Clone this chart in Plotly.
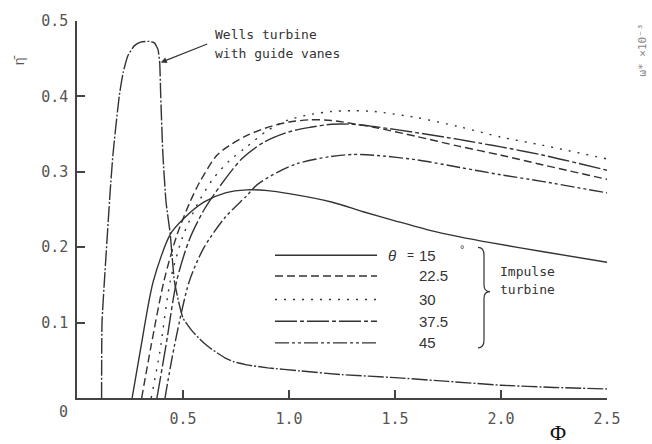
import plotly.graph_objects as go

# ---------------- data ----------------
wells_x = [0.116, 0.118, 0.132, 0.156, 0.17, 0.2, 0.218, 0.24, 0.27, 0.3, 0.34, 0.365, 0.382, 0.39,
           0.395, 0.405, 0.42, 0.44, 0.46, 0.5, 0.54, 0.58, 0.62, 0.66, 0.7, 0.74, 0.8, 0.9, 1.05, 1.25, 1.5, 1.75, 2.0, 2.25, 2.5]
wells_y = [0.0, 0.1, 0.167, 0.272, 0.324, 0.402, 0.432, 0.454, 0.467, 0.472, 0.473, 0.471, 0.462, 0.445,
           0.40, 0.324, 0.26, 0.217, 0.154, 0.106, 0.09, 0.078, 0.068, 0.06, 0.053, 0.048, 0.044, 0.04, 0.036, 0.031, 0.027, 0.022, 0.017, 0.014, 0.012]

t15_x = [0.26, 0.3, 0.36, 0.44, 0.5, 0.6, 0.7, 0.8, 0.9, 1.0, 1.2, 1.35, 1.5, 1.67, 1.8, 1.95, 2.2, 2.5]
t15_y = [0.0, 0.065, 0.155, 0.217, 0.237, 0.26, 0.272, 0.276, 0.275, 0.271, 0.26, 0.247, 0.235, 0.222, 0.214, 0.206, 0.194, 0.18]

t22_x = [0.305, 0.35, 0.41, 0.47, 0.53, 0.58, 0.66, 0.72, 0.8, 0.91, 1.0, 1.1, 1.2, 1.4, 1.6, 1.8, 2.0, 2.2, 2.5]
t22_y = [0.0, 0.07, 0.155, 0.215, 0.258, 0.287, 0.322, 0.335, 0.348, 0.36, 0.366, 0.369, 0.368, 0.359, 0.347, 0.334, 0.322, 0.309, 0.29]

t30_x = [0.35, 0.39, 0.44, 0.5, 0.57, 0.64, 0.72, 0.8, 0.9, 1.0, 1.1, 1.2, 1.3, 1.4, 1.6, 1.8, 2.0, 2.2, 2.5]
t30_y = [0.0, 0.06, 0.155, 0.215, 0.258, 0.29, 0.315, 0.333, 0.355, 0.369, 0.376, 0.38, 0.381, 0.38, 0.372, 0.36, 0.346, 0.335, 0.317]

t37_x = [0.377, 0.42, 0.47, 0.53, 0.6, 0.69, 0.78, 0.88, 1.0, 1.1, 1.2, 1.3, 1.4, 1.6, 1.8, 1.9, 2.0, 2.2, 2.5]
t37_y = [0.0, 0.07, 0.155, 0.21, 0.25, 0.287, 0.318, 0.339, 0.353, 0.359, 0.363, 0.363, 0.36, 0.352, 0.343, 0.338, 0.333, 0.322, 0.302]

t45_x = [0.415, 0.46, 0.53, 0.6, 0.7, 0.8, 0.85, 0.95, 1.04, 1.19, 1.3, 1.4, 1.6, 1.8, 1.9, 2.0, 2.2, 2.5]
t45_y = [0.0, 0.07, 0.155, 0.2, 0.24, 0.268, 0.283, 0.3, 0.311, 0.32, 0.323, 0.322, 0.316, 0.306, 0.301, 0.296, 0.287, 0.272]

theta_labels = ["15", "22.5", "30", "37.5", "45"]
x_tick_vals = [0.5, 1.0, 1.5, 2.0, 2.5]
x_tick_text = ["0.5", "1.0", "1.5", "2.0", "2.5"]
y_tick_vals = [0.1, 0.2, 0.3, 0.4, 0.5]
y_tick_text = ["0.1", "0.2", "0.3", "0.4", "0.5"]

# ---------------- styling ----------------
W, H = 652, 444
L, R, T, B = 77, 607, 15, 398  # plot area in pixels
INK = "#333333"
TXT = "#555555"
MONO = "DejaVu Sans Mono"
SANS = "Liberation Sans"

def px(x):
    return (x - L) / (R - L)

def py(y):
    return (B - y) / (B - T)

dashes = ["solid", "8px,4px", "2px,7px", "22px,3px,4px,3px", "14px,3px,3px,3px,3px,3px"]
series = [(t15_x, t15_y), (t22_x, t22_y), (t30_x, t30_y), (t37_x, t37_y), (t45_x, t45_y)]

fig = go.Figure()
fig.add_trace(go.Scatter(x=wells_x, y=wells_y, mode="lines",
                         line=dict(color=INK, width=1.4, dash="16px,2px,2px,2px", shape="spline", smoothing=0.5),
                         showlegend=False, hoverinfo="skip"))
for (sx, sy), d in zip(series, dashes):
    fig.add_trace(go.Scatter(x=sx, y=sy, mode="lines",
                             line=dict(color=INK, width=1.4, dash=d, shape="spline", smoothing=0.8),
                             showlegend=False, hoverinfo="skip"))

shapes = []
annotations = []

# legend samples (manual)
rows = [253, 274, 298, 320, 342]
for r, d, lab in zip(rows, dashes, theta_labels):
    shapes.append(dict(type="line", xref="paper", yref="paper", x0=px(275), x1=px(377), y0=py(r), y1=py(r),
                       line=dict(color=INK, width=1.4, dash=d)))
    annotations.append(dict(xref="paper", yref="paper", x=px(417), y=py(r), text=lab, showarrow=False,
                            xanchor="left", yanchor="middle", font=dict(family=SANS, size=15, color=INK)))
annotations.append(dict(xref="paper", yref="paper", x=px(398), y=py(rows[0]), text="<i>θ</i>", showarrow=False,
                        xanchor="right", yanchor="middle", font=dict(family=SANS, size=15, color=INK)))
annotations.append(dict(xref="paper", yref="paper", x=px(416), y=py(rows[0]), text="=", showarrow=False,
                        xanchor="right", yanchor="middle", font=dict(family=SANS, size=12, color=INK)))
annotations.append(dict(xref="paper", yref="paper", x=px(462), y=py(247), text="°", showarrow=False,
                        xanchor="center", yanchor="middle", font=dict(family=SANS, size=11, color=INK)))

# brace
bx = 484
bt, bm, bb = 245, 290, 347
path = (f"M {px(bx-6)},{py(bt)} Q {px(bx)},{py(bt)} {px(bx)},{py(bt+8)} "
        f"L {px(bx)},{py(bm-7)} Q {px(bx)},{py(bm)} {px(bx+6)},{py(bm)} "
        f"Q {px(bx)},{py(bm)} {px(bx)},{py(bm+7)} L {px(bx)},{py(bb-8)} "
        f"Q {px(bx)},{py(bb)} {px(bx-6)},{py(bb)}")
shapes.append(dict(type="path", xref="paper", yref="paper", path=path, line=dict(color=INK, width=1.2)))
annotations.append(dict(xref="paper", yref="paper", x=px(498), y=py(269), text="Impulse", showarrow=False,
                        xanchor="left", yanchor="middle", font=dict(family=MONO, size=13, color=INK)))
annotations.append(dict(xref="paper", yref="paper", x=px(498), y=py(288), text="turbine", showarrow=False,
                        xanchor="left", yanchor="middle", font=dict(family=MONO, size=13, color=INK)))

# Wells annotation
annotations.append(dict(xref="paper", yref="paper", x=px(213), y=py(29), text="Wells turbine", showarrow=False,
                        xanchor="left", yanchor="middle", font=dict(family=MONO, size=13, color=INK)))
annotations.append(dict(xref="paper", yref="paper", x=px(213), y=py(48), text="with guide vanes", showarrow=False,
                        xanchor="left", yanchor="middle", font=dict(family=MONO, size=13, color=INK)))
annotations.append(dict(x=0.395, y=0.445, xref="x", yref="y", text="", showarrow=True, arrowhead=2, arrowsize=1,
                        arrowwidth=1.2, arrowcolor=INK, ax=(209 - 161), ay=(38 - 57)))

# axis titles and origin label
annotations.append(dict(xref="paper", yref="paper", x=px(558), y=py(433), text="Φ", showarrow=False,
                        xanchor="center", yanchor="middle", font=dict(family="Liberation Serif", size=22, color="#111")))
annotations.append(dict(xref="paper", yref="paper", x=px(19), y=py(55), text="η̄", showarrow=False, textangle=-90,
                        xanchor="center", yanchor="middle", font=dict(family=SANS, size=14, color=TXT)))
annotations.append(dict(xref="paper", yref="paper", x=px(63), y=py(412), text="0", showarrow=False,
                        xanchor="center", yanchor="middle", font=dict(family=MONO, size=15, color=TXT)))
annotations.append(dict(xref="paper", yref="paper", x=px(643), y=py(45), text="ω* ×10⁻³", showarrow=False, textangle=-90,
                        xanchor="center", yanchor="middle", font=dict(family=MONO, size=11, color="#888")))

fig.update_layout(
    width=W, height=H,
    margin=dict(l=L, r=W - R, t=T, b=H - B, pad=0),
    paper_bgcolor="white", plot_bgcolor="white",
    shapes=shapes, annotations=annotations, showlegend=False,
    xaxis=dict(range=[0, 2.5], tickvals=x_tick_vals, ticktext=x_tick_text, ticks="inside", ticklen=8,
               tickwidth=1.5, tickcolor="#444", showline=True, linecolor="#444", linewidth=1.5,
               showgrid=False, zeroline=False, ticklabelstandoff=6,
               tickfont=dict(family=MONO, size=15, color=TXT), fixedrange=True),
    yaxis=dict(range=[0, 0.5], tickvals=y_tick_vals, ticktext=y_tick_text, ticks="inside", ticklen=8,
               tickwidth=1.5, tickcolor="#444", showline=True, linecolor="#444", linewidth=1.5,
               showgrid=False, zeroline=False, ticklabelstandoff=4,
               tickfont=dict(family=MONO, size=15, color=TXT), fixedrange=True),
)

fig.write_html("out.html")
